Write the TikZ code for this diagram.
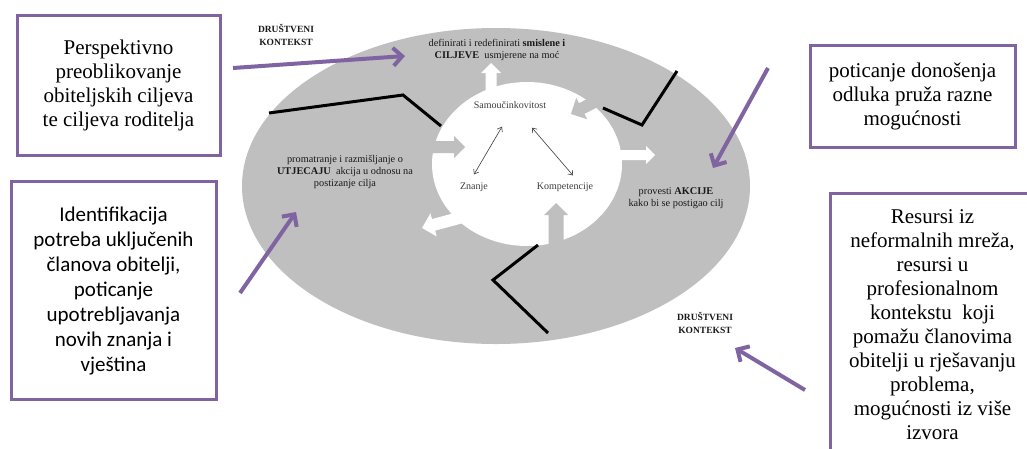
\documentclass[tikz,border=0pt]{standalone}
\usepackage{fontspec}
\setmainfont{Liberation Serif}
\newfontfamily\timesfont{Liberation Serif}
\newfontfamily\calibrifont{Carlito}
\usetikzlibrary{calc, arrows.meta, positioning}

\definecolor{ringgray}{RGB}{191,191,191}
\definecolor{boxpurple}{RGB}{128,100,162}
\definecolor{circtext}{RGB}{60,60,60}

% block arrow: fill colour, start, tip, shaft half width, head half width
\newcommand{\blockarrow}[5]{%
  \coordinate (hb) at ($(#3)!#5!(#2)$);
  \fill[#1] ($(#2)!#4!90:(#3)$) -- ($(hb)!#4!-90:(#2)$) -- ($(hb)!#5!-90:(#2)$) -- (#3)
    -- ($(hb)!#5!90:(#2)$) -- ($(hb)!#4!90:(#2)$) -- ($(#2)!#4!-90:(#3)$) -- cycle;
}

\begin{document}
\begin{tikzpicture}[x=1pt, y=-1pt, >={Straight Barb[length=4pt,width=6pt]},
    ringtext/.style={font=\timesfont\fontsize{10.3}{12}\selectfont, align=center, inner sep=0pt, text=black!90},
    circletext/.style={font=\timesfont\fontsize{10}{12}\selectfont, inner sep=0pt, text=circtext},
    purplebox/.style={draw=boxpurple, line width=3pt, fill=white, align=center, inner sep=0pt,
        font=\timesfont\fontsize{21}{24}\selectfont},
    purplearrow/.style={draw=boxpurple, line width=4pt, -{Straight Barb[length=9pt,width=18pt]}},
    zigzag/.style={line width=3pt, black},
    thinarrow/.style={<->, line width=0.6pt, circtext}]
    \useasboundingbox (0,0) rectangle (1027,448);
    \clip (0,0) rectangle (1027,448);

    % Social context ring and self-efficacy core
    \fill[ringgray] (496,186) ellipse [x radius=254pt, y radius=158pt];
    \fill[white] (527,164) ellipse [x radius=95pt, y radius=82pt];

    % Block arrows into the core (grey)
    \coordinate (inL1) at (422,147);  \coordinate (inL2) at (465,147);
    \coordinate (inR1) at (612,93);   \coordinate (inR2) at (571,114);
    \coordinate (inB1) at (556,256);  \coordinate (inB2) at (556,203);
    \blockarrow{ringgray}{inL1}{inL2}{6pt}{11pt}
    \blockarrow{ringgray}{inR1}{inR2}{6pt}{12pt}
    \blockarrow{ringgray}{inB1}{inB2}{7.5pt}{12pt}

    % Block arrows out of the core (white)
    \coordinate (outU1) at (491,95);  \coordinate (outU2) at (491,63);
    \coordinate (outR1) at (612,155); \coordinate (outR2) at (655,155);
    \coordinate (outL1) at (470,215); \coordinate (outL2) at (422,228);
    \blockarrow{white}{outU1}{outU2}{5.5pt}{10pt}
    \blockarrow{white}{outR1}{outR2}{5pt}{9pt}
    \blockarrow{white}{outL1}{outL2}{6pt}{12pt}

    % Barriers
    \draw[zigzag] (269,113) -- (403,95) -- (441,126);
    \draw[zigzag] (603,108) -- (642,125) -- (677,71);
    \draw[zigzag] (538,245) -- (493,280) -- (548,333);

    % Ring texts
    \node[ringtext] (goals) at (497,50) {definirati i redefinirati \textbf{smislene i}\\\textbf{CILJEVE}\ \ usmjerene na moć};
    \node[ringtext, font=\timesfont\fontsize{9.5}{12.5}\selectfont\bfseries] (ctxtop) at (286,35) {DRUŠTVENI\\KONTEKST};
    \node[ringtext] (impact) at (345,172) {promatranje i razmišljanje o\\\textbf{UTJECAJU}\ \ akcija u odnosu na\\postizanje cilja};
    \node[ringtext] (actions) at (676,198) {provesti \textbf{AKCIJE}\\kako bi se postigao cilj};
    \node[ringtext, font=\timesfont\fontsize{9.5}{12.5}\selectfont\bfseries] (ctxbot) at (705,323) {DRUŠTVENI\\KONTEKST};

    % Core texts
    \node[circletext] (self) at (510,105) {Samoučinkovitost};
    \node[circletext] (znanje) at (474,187) {Znanje};
    \node[circletext] (komp) at (565,187) {Kompetencije};
    \draw[thinarrow] ([xshift=-8pt,yshift=-18pt]self.south) -- ([yshift=8pt]znanje.north);
    \draw[thinarrow] ([xshift=22pt,yshift=-19pt]self.south) -- ([xshift=8pt,yshift=7pt]komp.north);

    % Boxes
    \node[purplebox, minimum width=203pt, minimum height=140pt] (box1) at (118.5,85)
        {Perspektivno\\preoblikovanje\\obiteljskih ciljeva\\te ciljeva roditelja};
    \node[purplebox, minimum width=205pt, minimum height=218pt, font=\calibrifont\fontsize{21}{25}\selectfont] (box2) at (113.5,290.5)
        {Identifikacija\\potreba uključenih\\članova obitelji,\\poticanje\\upotrebljavanja\\novih znanja i\\vještina};
    \node[purplebox, minimum width=205pt, minimum height=102pt] (box3) at (912.5,96)
        {poticanje donošenja\\odluka pruža razne\\mogućnosti};
    \node[purplebox, minimum width=205pt, minimum height=264pt] (box4) at (932.5,325)
        {Resursi iz\\neformalnih mreža,\\resursi u\\profesionalnom\\kontekstu\ \ koji\\pomažu članovima\\obitelji u rješavanju\\problema,\\mogućnosti iz više\\izvora};

    % Purple arrows
    \coordinate (p1s) at (233,68);  \coordinate (p1e) at (405,56);
    \coordinate (p2s) at (240,293); \coordinate (p2e) at (296,212);
    \coordinate (p3s) at (768,68);  \coordinate (p3e) at (713,168);
    \coordinate (p4s) at (805,390); \coordinate (p4e) at (735,348);
    \draw[purplearrow] (p1s) -- (p1e);
    \draw[purplearrow] (p2s) -- (p2e);
    \draw[purplearrow] (p3s) -- (p3e);
    \draw[purplearrow] (p4s) -- (p4e);
\end{tikzpicture}
\end{document}
